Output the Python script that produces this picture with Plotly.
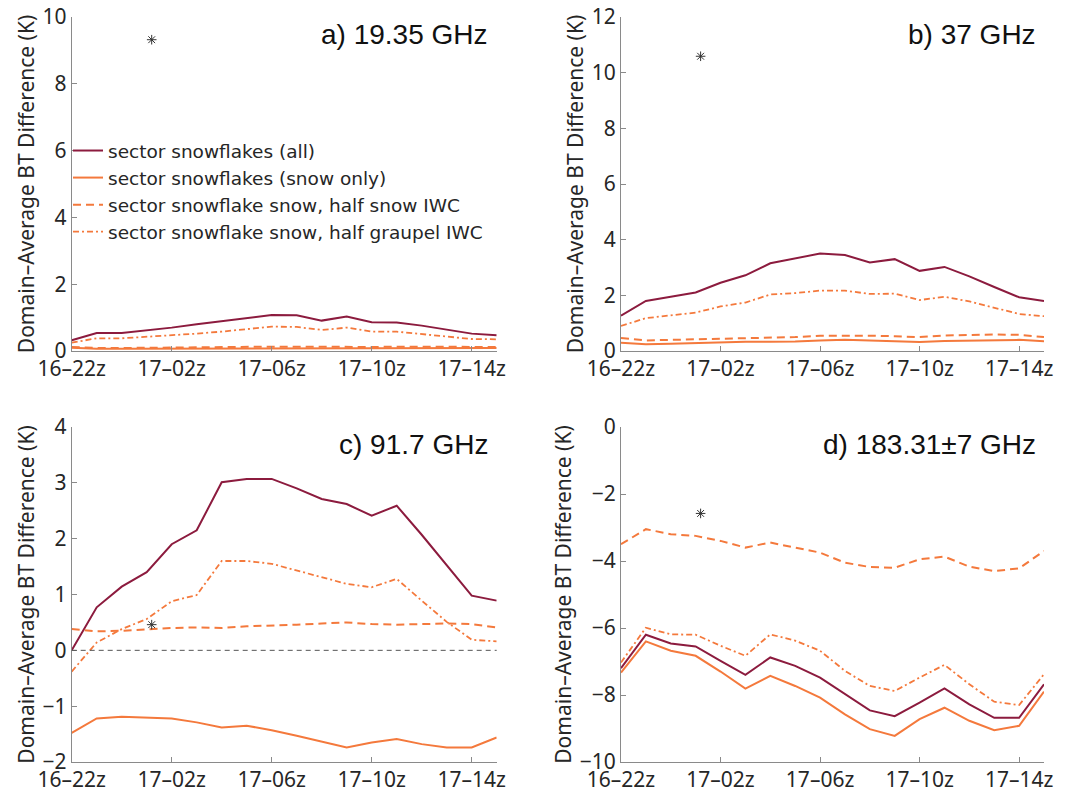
import plotly.graph_objects as go

# Hourly model output times, 16-22z through 17-15z (hours since 16-22z)
hours = list(range(18))
tick_hours = [0, 4, 8, 12, 16]
tick_labels = ["16–22z", "17–02z", "17–06z", "17–10z", "17–14z"]

series_names = [
    "sector snowflakes (all)",
    "sector snowflakes (snow only)",
    "sector snowflake snow, half snow IWC",
    "sector snowflake snow, half graupel IWC",
]

# a) 19.35 GHz
a_all = [0.32, 0.54, 0.54, 0.61, 0.70, 0.80, 0.89, 0.99, 1.08, 1.07, 0.91, 1.03, 0.86, 0.85, 0.76, 0.64, 0.52, 0.47]
a_snow = [0.10, 0.07, 0.07, 0.07, 0.08, 0.08, 0.08, 0.09, 0.09, 0.09, 0.09, 0.09, 0.09, 0.09, 0.09, 0.09, 0.09, 0.09]
a_half_snow = [0.12, 0.09, 0.09, 0.10, 0.11, 0.11, 0.12, 0.12, 0.13, 0.13, 0.12, 0.13, 0.12, 0.13, 0.13, 0.13, 0.13, 0.12]
a_half_graupel = [0.25, 0.38, 0.38, 0.42, 0.47, 0.52, 0.58, 0.65, 0.73, 0.72, 0.63, 0.70, 0.58, 0.58, 0.50, 0.42, 0.36, 0.35]

# b) 37 GHz
b_all = [1.27, 1.80, 1.95, 2.10, 2.45, 2.72, 3.15, 3.32, 3.50, 3.45, 3.18, 3.30, 2.88, 3.02, 2.68, 2.30, 1.93, 1.80]
b_snow = [0.30, 0.24, 0.26, 0.29, 0.32, 0.33, 0.33, 0.34, 0.38, 0.40, 0.38, 0.36, 0.32, 0.36, 0.38, 0.40, 0.40, 0.35]
b_half_snow = [0.47, 0.38, 0.40, 0.42, 0.44, 0.45, 0.48, 0.50, 0.55, 0.56, 0.55, 0.53, 0.50, 0.56, 0.58, 0.59, 0.58, 0.50]
b_half_graupel = [0.90, 1.18, 1.28, 1.38, 1.60, 1.74, 2.03, 2.08, 2.17, 2.17, 2.05, 2.06, 1.83, 1.95, 1.78, 1.55, 1.33, 1.25]

# c) 91.7 GHz
c_all = [0.00, 0.77, 1.14, 1.40, 1.90, 2.15, 3.01, 3.07, 3.07, 2.90, 2.71, 2.62, 2.41, 2.59, 2.07, 1.52, 0.98, 0.89]
c_snow = [-1.48, -1.22, -1.19, -1.20, -1.22, -1.29, -1.38, -1.35, -1.43, -1.53, -1.64, -1.74, -1.65, -1.59, -1.68, -1.74, -1.74, -1.56]
c_half_snow = [0.38, 0.34, 0.35, 0.38, 0.40, 0.41, 0.40, 0.43, 0.44, 0.46, 0.48, 0.50, 0.47, 0.46, 0.47, 0.48, 0.47, 0.41]
c_half_graupel = [-0.38, 0.14, 0.38, 0.56, 0.88, 0.99, 1.60, 1.60, 1.55, 1.43, 1.30, 1.19, 1.13, 1.28, 0.89, 0.51, 0.19, 0.16]

# d) 183.31±7 GHz
d_all = [-7.20, -6.20, -6.46, -6.55, -6.98, -7.40, -6.88, -7.13, -7.48, -7.98, -8.46, -8.63, -8.23, -7.80, -8.28, -8.68, -8.68, -7.68]
d_snow = [-7.33, -6.40, -6.68, -6.83, -7.30, -7.81, -7.43, -7.73, -8.08, -8.58, -9.02, -9.22, -8.72, -8.38, -8.77, -9.05, -8.92, -7.90]
d_half_snow = [-3.50, -3.05, -3.20, -3.25, -3.40, -3.60, -3.45, -3.60, -3.75, -4.05, -4.18, -4.20, -3.95, -3.87, -4.17, -4.30, -4.22, -3.70]
d_half_graupel = [-7.03, -5.99, -6.19, -6.20, -6.53, -6.83, -6.19, -6.38, -6.68, -7.28, -7.73, -7.88, -7.48, -7.10, -7.68, -8.20, -8.30, -7.38]

# Single observed value per channel (asterisk)
obs_hour = 3.2
obs_values = [9.32, 10.59, 0.46, -2.58]

panel_titles = ["a) 19.35 GHz", "b) 37 GHz", "c) 91.7 GHz", "d) 183.31±7 GHz"]
panel_ranges = [[0, 10], [0, 12], [-2, 4], [-10, 0]]
panel_ticks = [[0, 2, 4, 6, 8, 10], [0, 2, 4, 6, 8, 10, 12], [-2, -1, 0, 1, 2, 3, 4], [-10, -8, -6, -4, -2, 0]]
panel_data = [
    [a_all, a_snow, a_half_snow, a_half_graupel],
    [b_all, b_snow, b_half_snow, b_half_graupel],
    [c_all, c_snow, c_half_snow, c_half_graupel],
    [d_all, d_snow, d_half_snow, d_half_graupel],
]

MAROON = "#8c1b3e"
ORANGE = "#f4793c"
styles = [
    dict(color=MAROON, width=2, dash="solid"),
    dict(color=ORANGE, width=2, dash="solid"),
    dict(color=ORANGE, width=2, dash="8px,5px"),
    dict(color=ORANGE, width=1.8, dash="6px,3px,2px,3px"),
]

W, H = 1068, 788
left_x = (71.7, 496.7)
right_x = (621.0, 1044.0)
top_y = (17.0, 351.0)
bottom_y = (427.0, 762.0)
boxes = [(left_x, top_y), (right_x, top_y), (left_x, bottom_y), (right_x, bottom_y)]

TEXT_COLOR = "#262626"
TICK_FONT = dict(family="Noto Sans", size=21, color=TEXT_COLOR)
AXIS_COLOR = "#8a8a8a"

fig = go.Figure()
layout = dict(
    template="none",
    width=W, height=H,
    margin=dict(l=0, r=0, t=0, b=0, autoexpand=False),
    paper_bgcolor="white", plot_bgcolor="white",
    showlegend=True,
    legend=dict(
        x=68 / W, y=1 - 132 / H, xanchor="left", yanchor="top",
        bgcolor="rgba(0,0,0,0)", borderwidth=0,
        font=dict(family="DejaVu Sans", size=18.5, color=TEXT_COLOR),
        itemwidth=30, tracegroupgap=0,
    ),
    annotations=[], shapes=[],
)

for k in range(4):
    (x0, x1), (y0, y1) = boxes[k]
    sfx = "" if k == 0 else str(k + 1)
    xa, ya = "x" + sfx, "y" + sfx
    layout["xaxis" + sfx] = dict(
        domain=[x0 / W, x1 / W], anchor=ya, range=[0, 17], automargin=False,
        tickmode="array", tickvals=tick_hours, ticktext=tick_labels,
        ticks="inside", ticklen=5, tickcolor=AXIS_COLOR,
        showline=True, linecolor=AXIS_COLOR, linewidth=1,
        showgrid=False, zeroline=False, tickfont=TICK_FONT,
        ticklabelstandoff=-1,
    )
    layout["yaxis" + sfx] = dict(
        domain=[1 - y1 / H, 1 - y0 / H], anchor=xa, range=panel_ranges[k],
        automargin=False,
        tickmode="array", tickvals=panel_ticks[k],
        ticks="inside", ticklen=5, tickcolor=AXIS_COLOR,
        showline=True, linecolor=AXIS_COLOR, linewidth=1,
        showgrid=False, zeroline=False, tickfont=TICK_FONT,
        title=dict(text="Domain–Average BT Difference (K)",
                   font=dict(family="Noto Sans", size=21, color=TEXT_COLOR),
                   standoff=2),
    )
    for s in range(4):
        fig.add_trace(go.Scatter(
            x=hours, y=panel_data[k][s], mode="lines",
            line=styles[s], name=series_names[s],
            showlegend=(k == 0), xaxis=xa, yaxis=ya,
        ))
    fig.add_trace(go.Scatter(
        x=[obs_hour], y=[obs_values[k]], mode="markers",
        marker=dict(symbol="asterisk-open", size=8, color="#333333",
                    line=dict(color="#333333", width=1)),
        showlegend=False, xaxis=xa, yaxis=ya,
    ))
    layout["annotations"].append(dict(
        text=panel_titles[k], xref=xa + " domain", yref=ya + " domain",
        x=0.985, y=1.0, xanchor="right", yanchor="top", showarrow=False,
        font=dict(family="Liberation Sans", size=28, color="#111111"),
    ))

# zero reference line in panel c
layout["shapes"].append(dict(
    type="line", xref="x3 domain", yref="y3", x0=0, x1=1, y0=0, y1=0,
    line=dict(color="#555555", width=1, dash="5px,4px"),
))

fig.update_layout(**layout)
fig.write_html("out.html")
